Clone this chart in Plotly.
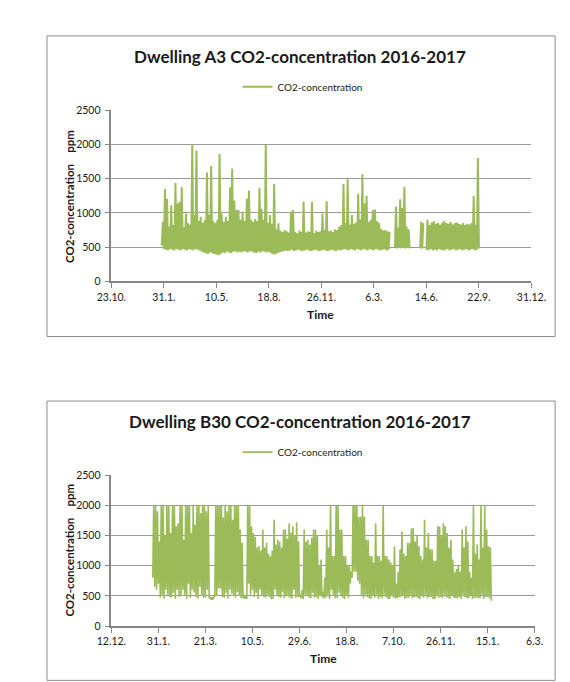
import pandas as pd
import plotly.graph_objects as go

# ---------------- data ----------------
title_a = "Dwelling A3 CO2-concentration 2016-2017"
title_b = "Dwelling B30 CO2-concentration 2016-2017"
series_name = "CO2-concentration"
y_title = "CO2-concentration\u00a0\u00a0\u00a0\u00a0ppm"
x_title = "Time"

# Dwelling A3: readings every 2 days starting 27.1.2016 (None = no data)
a_start = "2016-01-27"
a_step_days = 2
co2_a = [
    520, 870, 470, 1350, 460, 1205, 450, 800, 470, 1110,
    460, 820, 450, 1435, 470, 1135, 460, 1160, 450, 1375,
    470, 790, 460, 990, 450, 847, 470, 830, 460, 2000,
    450, 967, 470, 1910, 460, 880, 450, 943, 430, 860,
    420, 900, 410, 1590, 400, 967, 420, 1685, 410, 880,
    400, 850, 390, 900, 380, 1860, 400, 990, 420, 870,
    410, 943, 430, 880, 420, 1375, 410, 1650, 430, 1180,
    440, 1040, 420, 1040, 430, 900, 420, 1015, 440, 880,
    430, 1205, 420, 1325, 440, 900, 430, 870, 420, 910,
    410, 880, 430, 1365, 420, 1060, 440, 900, 430, 2000,
    420, 850, 430, 967, 410, 840, 400, 1420, 390, 760,
    410, 847, 420, 740, 430, 720, 440, 750, 450, 730,
    440, 710, 450, 1015, 460, 1040, 440, 720, 450, 700,
    460, 740, 450, 720, 440, 1160, 450, 710, 460, 730,
    450, 720, 440, 1160, 450, 700, 460, 740, 450, 720,
    440, 730, 450, 990, 460, 750, 450, 1170, 440, 730,
    450, 740, 460, 720, 450, 760, 440, 750, 460, 800,
    450, 820, 460, 1420, 470, 850, 460, 1490, 450, 830,
    470, 967, 460, 840, 450, 860, 470, 1280, 460, 900,
    450, 1565, 470, 1135, 460, 1255, 450, 870, 470, 900,
    460, 1040, 450, 1050, 470, 880, 460, 850, 450, 760,
    460, 740, 470, 750, 450, 730, 460, 720, None, None,
    None, None, 490, 1092, 480, 780, 490, 1200, 480, 1070,
    490, 1380, 480, 800, 490, 760, 480, None, None, None,
    None, None, None, None, None, None, 480, 870, 480, 850,
    None, None, 460, 900, 450, 820, 470, 860, 450, 880,
    460, 840, 450, 850, 470, 830, 460, 860, 450, 880,
    460, 850, 470, 840, 450, 870, 460, 830, 470, 850,
    450, 860, 460, 840, 470, 830, 450, 850, 460, 820,
    470, 840, 450, 830, 460, 850, 470, 1250, 450, 830,
    460, 1800, 480,
]

# Dwelling B30: daily readings starting 25.1.2016
b_start = "2016-01-25"
b_step_days = 1
co2_b = [
    800, 2000, 650, 2000, 600, 1900, 700, 1400, 470, 2000, 520, 2000,
    450, 1500, 600, 2000, 520, 2000, 480, 1540, 470, 2000, 550, 2000,
    450, 1650, 600, 1700, 480, 2000, 500, 2000, 600, 1430, 520, 2000,
    450, 2000, 700, 2000, 470, 1540, 600, 2000, 560, 1680, 480, 2000,
    450, 2000, 650, 1870, 500, 2000, 470, 2000, 470, 1900, 600, 2000,
    460, 470, 450, 470, 450, 480, 500, 2000, 500, 2000, 620, 2000,
    620, 2000, 480, 1800, 470, 2000, 550, 1900, 450, 2000, 600, 2000,
    540, 1760, 500, 2000, 470, 2000, 560, 2000, 500, 1600, 460, 1380,
    460, 520, 450, 500, 450, 2000, 700, 2000, 520, 1650, 600, 1540,
    480, 1480, 550, 1300, 450, 1325, 600, 1250, 500, 1600, 480, 1300,
    470, 1380, 520, 1200, 480, 1160, 450, 1250, 450, 1760, 600, 1350,
    520, 1430, 480, 1400, 470, 1300, 560, 1600, 460, 1600, 500, 1450,
    490, 1700, 470, 1550, 450, 1650, 600, 1500, 470, 1720, 480, 1400,
    480, 520, 460, 600, 450, 1600, 520, 1400, 500, 1430, 470, 1350,
    460, 1460, 550, 1600, 470, 1600, 480, 1500, 450, 1000, 500, 1100,
    480, 560, 460, 800, 470, 1600, 520, 1300, 450, 2000, 600, 1160,
    520, 1160, 460, 2000, 460, 2000, 550, 1600, 500, 1600, 470, 1160,
    450, 1160, 520, 1000, 470, 1000, 700, 900, 800, 2000, 900, 2000,
    900, 2000, 750, 1810, 700, 1810, 500, 2000, 460, 1810, 520, 1430,
    480, 1430, 460, 1160, 450, 1160, 500, 1050, 470, 1700, 520, 1160,
    450, 1160, 480, 1080, 460, 2000, 520, 1160, 480, 1160, 450, 1100,
    450, 1050, 500, 1000, 470, 1320, 460, 700, 460, 900, 480, 1270,
    480, 1570, 500, 1200, 450, 1160, 470, 1380, 470, 1380, 520, 1620,
    460, 1620, 480, 1400, 480, 1490, 460, 1325, 450, 1160, 500, 1100,
    470, 1760, 520, 1300, 460, 1540, 480, 1270, 480, 1270, 450, 1080,
    450, 1080, 500, 1650, 470, 1650, 480, 1500, 460, 1700, 520, 1650,
    480, 1540, 460, 1300, 450, 1430, 500, 1100, 470, 890, 460, 950,
    460, 1000, 480, 900, 450, 1600, 520, 1300, 480, 1650, 460, 1400,
    460, 900, 500, 800, 450, 2000, 470, 1200, 470, 1350, 460, 1100,
    460, 2000, 520, 1300, 450, 2000, 480, 1600, 480, 1320, 460, 1300,
    420,
]

# axis ticks
a_tick_dates = ["2015-10-23", "2016-01-31", "2016-05-10", "2016-08-18", "2016-11-26",
                "2017-03-06", "2017-06-14", "2017-09-22", "2017-12-31"]
a_tick_labels = ["23.10.", "31.1.", "10.5.", "18.8.", "26.11.", "6.3.", "14.6.", "22.9.", "31.12."]
b_tick_dates = ["2015-12-12", "2016-01-31", "2016-03-21", "2016-05-10", "2016-06-29",
                "2016-08-18", "2016-10-07", "2016-11-26", "2017-01-15", "2017-03-06"]
b_tick_labels = ["12.12.", "31.1.", "21.3.", "10.5.", "29.6.", "18.8.", "7.10.", "26.11.", "15.1.", "6.3."]
y_ticks = [0, 500, 1000, 1500, 2000, 2500]

# ---------------- figure ----------------
W, H = 570, 682
GREEN = "#9BBB59"
GRID = "#9a9a9a"
AXIS = "#868686"
FONT = "Lato"
TXT = "#1a1a1a"

def px(x):
    return x / W

def py(y):
    return 1 - y / H

a_x = pd.date_range(a_start, periods=len(co2_a), freq=f"{a_step_days}D")
b_x = pd.date_range(b_start, periods=len(co2_b), freq=f"{b_step_days}D")

fig = go.Figure()
fig.add_trace(go.Scatter(x=a_x, y=co2_a, mode="lines", name=series_name,
                         line=dict(color=GREEN, width=2, simplify=False), xaxis="x", yaxis="y",
                         legend="legend"))
fig.add_trace(go.Scatter(x=b_x, y=co2_b, mode="lines", name=series_name,
                         line=dict(color=GREEN, width=1.6, simplify=False), xaxis="x2", yaxis="y2",
                         legend="legend2"))

def xaxis_cfg(dom, ticks, labels, anchor):
    return dict(domain=dom, type="date", range=[ticks[0], ticks[-1]],
                tickmode="array", tickvals=ticks, ticktext=labels,
                ticks="outside", ticklen=5, tickcolor=AXIS, tickwidth=1,
                showline=True, linecolor=AXIS, linewidth=1.5, showgrid=False,
                zeroline=False, anchor=anchor,
                tickfont=dict(family=FONT, size=10.5, color=TXT))

def yaxis_cfg(dom, anchor):
    return dict(domain=dom, range=[0, 2500], tickmode="array", tickvals=y_ticks,
                ticks="outside", ticklen=5, tickcolor=AXIS, tickwidth=1,
                showline=True, linecolor=AXIS, linewidth=1.5,
                showgrid=True, gridcolor=GRID, gridwidth=1, zeroline=False,
                anchor=anchor, ticklabelstandoff=2,
                tickfont=dict(family=FONT, size=10.5, color=TXT))

fig.update_layout(
    width=W, height=H, margin=dict(l=0, r=0, t=0, b=0),
    paper_bgcolor="white", plot_bgcolor="white",
    xaxis=xaxis_cfg([px(93.3), px(536.7)], a_tick_dates, a_tick_labels, "y"),
    yaxis=yaxis_cfg([py(272), py(98)], "x"),
    xaxis2=xaxis_cfg([px(93.3), px(540)], b_tick_dates, b_tick_labels, "y2"),
    yaxis2=yaxis_cfg([py(623), py(469.3)], "x2"),
    legend=dict(orientation="h", x=px(295), y=py(74), xanchor="center", yanchor="middle",
                font=dict(family=FONT, size=10, color=TXT), bgcolor="rgba(0,0,0,0)"),
    legend2=dict(orientation="h", x=px(295), y=py(446), xanchor="center", yanchor="middle",
                 font=dict(family=FONT, size=10, color=TXT), bgcolor="rgba(0,0,0,0)"),
    showlegend=True,
)

# panel borders
for (y0, y1) in [(22.3, 328.3), (394, 678.3)]:
    fig.add_shape(type="rect", xref="paper", yref="paper",
                  x0=px(25.3), x1=px(561.7), y0=py(y1), y1=py(y0),
                  line=dict(color="#8c8c8c", width=1), fillcolor="rgba(0,0,0,0)",
                  layer="below")

ann = []
for text, x, y in [(title_a, 292.7, 43), (title_b, 292.6, 415)]:
    ann.append(dict(text=f"<b>{text}</b>", x=px(x), y=py(y), xref="paper", yref="paper",
                    showarrow=False, xanchor="center", yanchor="middle",
                    font=dict(family=FONT, size=17, color=TXT)))
for x, y in [(314, 306), (316.8, 656)]:
    ann.append(dict(text=f"<b>{x_title}</b>", x=px(x), y=py(y), xref="paper", yref="paper",
                    showarrow=False, xanchor="center", yanchor="middle",
                    font=dict(family=FONT, size=12, color=TXT)))
for y in [186, 546]:
    ann.append(dict(text=f"<b>{y_title}</b>", x=px(48.8), y=py(y), xref="paper", yref="paper",
                    showarrow=False, xanchor="center", yanchor="middle", textangle=-90,
                    font=dict(family=FONT, size=11.5, color=TXT)))
fig.update_layout(annotations=ann)

fig.write_html("out.html")
